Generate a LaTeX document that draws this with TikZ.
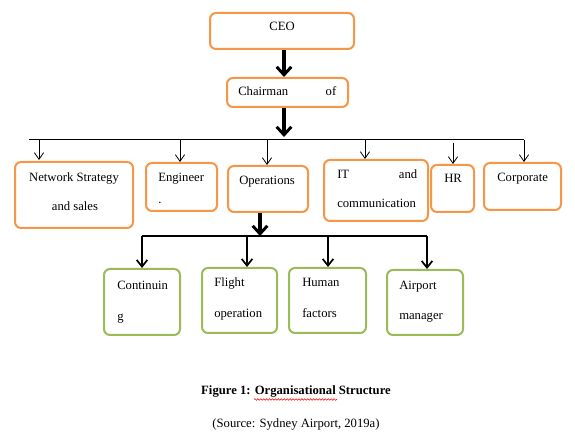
\documentclass[tikz,border=0pt]{standalone}
\usepackage{fontspec}
\setmainfont{Liberation Serif}
\usetikzlibrary{arrows.meta,decorations.pathmorphing}
\definecolor{boxorange}{RGB}{247,150,70}
\definecolor{boxgreen}{RGB}{155,187,89}

\begin{document}
\begin{tikzpicture}[x=0.75pt,y=-0.75pt,
    obox/.style={draw=boxorange,line width=1.5pt,rounded corners=4.5pt,fill=white,inner sep=0pt},
    gbox/.style={draw=boxgreen,line width=1.5pt,rounded corners=4.5pt,fill=white,inner sep=0pt},
    txt/.style={inner sep=0pt,font=\fontsize{9.5}{11}\selectfont},
    thin arrow/.style={line width=0.75pt,-{Straight Barb[length=5pt,width=7pt,line width=0.6pt]}},
    big arrow/.style={line width=2.6pt,-{Straight Barb[length=6pt,width=11pt,line width=2.2pt]}},
    mid arrow/.style={line width=1.5pt,-{Straight Barb[length=5pt,width=8pt,line width=1.3pt]}}]
    \useasboundingbox (0,0) rectangle (575,441);
    % boxes
    \node[obox,minimum width=108pt,minimum height=27pt] (ceo) at (282,31) {};
    \node[obox,minimum width=90.75pt,minimum height=21.75pt] (chair) at (287.5,92.5) {};
    \node[obox,minimum width=88.5pt,minimum height=49.5pt] (net) at (74,195) {};
    \node[obox,minimum width=53.25pt,minimum height=36pt] (eng) at (181.5,187) {};
    \node[obox,minimum width=60pt,minimum height=34.5pt] (ops) at (268,189) {};
    \node[obox,minimum width=78pt,minimum height=45.75pt] (it) at (376,190.5) {};
    \node[obox,minimum width=32.25pt,minimum height=35.25pt] (hr) at (452.5,188.5) {};
    \node[obox,minimum width=57.75pt,minimum height=35.25pt] (corp) at (522.5,186.5) {};
    \node[gbox,minimum width=57pt,minimum height=49.5pt] (cont) at (142,302) {};
    \node[gbox,minimum width=56.25pt,minimum height=48.75pt] (flight) at (239.5,300.5) {};
    \node[gbox,minimum width=57.75pt,minimum height=48.75pt] (human) at (327.5,300.5) {};
    \node[gbox,minimum width=57pt,minimum height=48.75pt] (airport) at (425,302.5) {};
    % texts
    \node[txt,anchor=base] (ceo-t) at (282,31) {CEO};
    \node[txt,anchor=base west,text width=73.5pt] (chair-t) at (238,96) {Chairman\hfill of};
    \node[txt,anchor=base] (net-t1) at (74,182) {Network Strategy};
    \node[txt,anchor=base] (net-t2) at (75,211) {and sales};
    \node[txt,anchor=base west] (eng-t1) at (158,182) {Engineer};
    \node[txt,anchor=base west] (eng-t2) at (158,204) {.};
    \node[txt,anchor=base west] (ops-t) at (239,185) {Operations};
    \node[txt,anchor=base west,text width=60pt] (it-t1) at (337,179) {IT\hfill and};
    \node[txt,anchor=base west] (it-t2) at (337,208) {communication};
    \node[txt,anchor=base west] (hr-t) at (444,183) {HR};
    \node[txt,anchor=base west] (corp-t) at (497,182) {Corporate};
    \node[txt,anchor=base west] (cont-t1) at (117,290) {Continuin};
    \node[txt,anchor=base west] (cont-t2) at (117,321) {g};
    \node[txt,anchor=base west] (flight-t1) at (214,287) {Flight};
    \node[txt,anchor=base west] (flight-t2) at (214,318) {operation};
    \node[txt,anchor=base west] (human-t1) at (302,287) {Human};
    \node[txt,anchor=base west] (human-t2) at (302,318) {factors};
    \node[txt,anchor=base west] (airport-t1) at (399,290) {Airport};
    \node[txt,anchor=base west] (airport-t2) at (399,320) {manager};
    % caption
    \node[txt,anchor=base,font=\fontsize{9.5}{11}\selectfont\bfseries] (cap) at (296,395) {Figure 1: Organisational Structure};
    \node[txt,anchor=base] (src) at (296,428) {(Source: Sydney Airport, 2019a)};
    \draw[red,line width=0.4pt,decorate,decoration={snake,amplitude=0.6pt,segment length=2.2pt}] (254,399.5) -- (337,399.5);
    % bus lines
    \coordinate (busL) at (29,140);
    \coordinate (busR) at (524,140);
    \coordinate (bus2L) at (142,236);
    \coordinate (bus2R) at (427,236);
    \coordinate (opsdrop) at (260,236);
    \draw[line width=0.75pt] (busL) -- (busR);
    \draw[line width=1.5pt] (bus2L) -- (bus2R);
    % arrows
    \draw[big arrow] (ceo.south -| 284,0) -- (chair.north -| 284,0);
    \draw[big arrow] (chair.south -| 284,0) -- (284,137);
    \draw[thin arrow] (39,140) -- (39,160);
    \draw[thin arrow] (180,140) -- (eng.north -| 180,0);
    \draw[thin arrow] (267,140) -- (ops.north -| 267,0);
    \draw[thin arrow] (365,140) -- (it.north -| 365,0);
    \draw[thin arrow] (453,143) -- (hr.north -| 453,0);
    \draw[thin arrow] (busR) -- (corp.north -| busR);
    \draw[big arrow] (ops.south -| opsdrop) -- (opsdrop);
    \draw[mid arrow] (bus2L) -- (cont.north -| bus2L);
    \draw[mid arrow] (247,236) -- (flight.north -| 247,0);
    \draw[mid arrow] (328,236) -- (human.north -| 328,0);
    \draw[mid arrow] (bus2R) -- (airport.north -| bus2R);
\end{tikzpicture}
\end{document}
